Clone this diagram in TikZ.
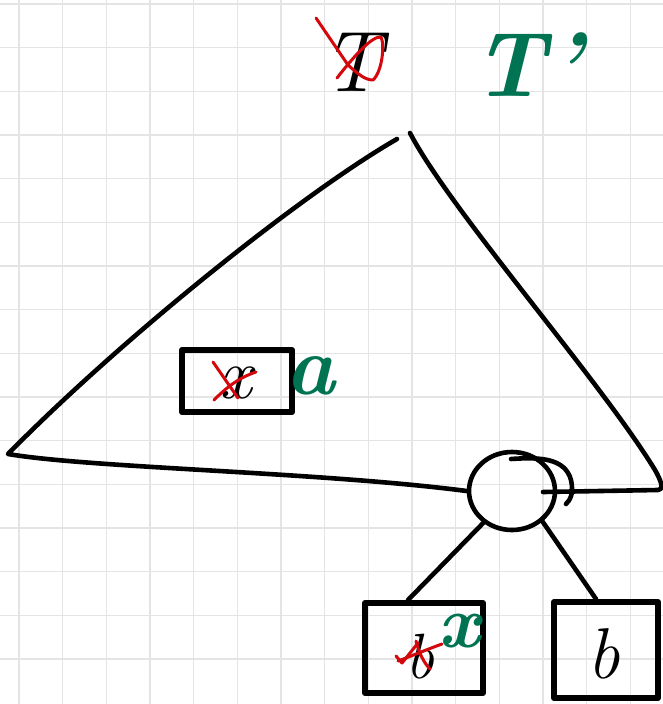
\documentclass[tikz,border=0pt]{standalone}
\usepackage{fontspec}
\usetikzlibrary{calc,shapes.geometric}
\definecolor{gridc}{RGB}{228,228,228}
\definecolor{penred}{RGB}{212,8,12}
\definecolor{pengreen}{RGB}{0,115,82}
\tikzset{
  ink/.style={line width=4.6pt, line cap=round, line join=round},
  boxnode/.style={draw, line width=6pt, line join=round, minimum width=#1, minimum height=92pt, inner sep=0pt},
  redx/.style={penred, line width=3pt, line cap=round, line join=round},
  hand/.style={font=\fontsize{72}{72}\selectfont\itshape, inner sep=0pt},
  greenhand/.style={pengreen, inner sep=0pt, font=\fontsize{#1}{#1}\selectfont\bfseries\itshape},
}
\begin{document}
\begin{tikzpicture}[x=1pt,y=-1pt]
\useasboundingbox (0,0) rectangle (663,704);
\fill[white] (0,0) rectangle (663,704);
% grid
\foreach \i in {0,...,15} {
  \draw[gridc, line width=1.5pt] ({19+43.67*\i},0) -- ({19+43.67*\i},704);
  \draw[gridc, line width=1.5pt] (0,{4+43.67*\i}) -- (663,{4+43.67*\i});
}
% circle (tree root)
\node[draw, ink, ellipse, minimum width=86pt, minimum height=78pt, inner sep=0pt] (c) at (512,491) {};
\draw[ink] (511,459) .. controls (540,457) and (565,458) .. (571,480) .. controls (574,494) and (570,500) .. (566,504);
% triangle
\coordinate (apex) at (410,132);
\coordinate (lc) at (8,454);
\coordinate (rc) at (658,490);
\draw[ink] (397,139) .. controls (300,195) and (120,340) .. (lc)
  .. controls (90,468) and (320,472) .. (c.west);
\draw[ink] (410,133) .. controls (450,210) and (600,380) .. (655,470)
  .. controls (663,484) and (663,490) .. (rc) -- (543,492);
% nodes
\node[boxnode=110pt, minimum height=62pt] (bx) at (237,381) {};
\node[boxnode=118pt, minimum height=90pt] (bl) at (424,648) {};
\node[boxnode=104pt, minimum height=96pt] (bb) at (606,650) {};
\draw[ink] (c.228) -- ($(bl.north)+(-16,0)$);
\draw[ink] (c.315) -- ($(bb.north)+(-10,0)$);
% labels in boxes
\node[hand] (xa) at (236,383) {x};
\draw[redx] (213,362) -- (238,398);
\draw[redx] (214,400) .. controls (226,388) and (238,378) .. (256,372);
\node[greenhand=84pt] (la) at (310,376) {a};
\node[hand, font=\fontsize{64}{64}\selectfont\itshape] (vb) at (420,657) {b};
\draw[redx] (396,656) -- (402,663) -- (418,643);
\draw[redx] (416,641) .. controls (419,653) and (424,663) .. (430,669);
\draw[redx] (398,661) .. controls (414,655) and (428,649) .. (442,644);
\node[greenhand=74pt] (gx) at (459,631) {x};
\node[hand] (lb) at (604,654) {b};
% T and T'
\node[hand, font=\fontsize{86}{86}\selectfont\itshape] (t1) at (352,62) {T};
\draw[redx] (316,18) -- (348,65) .. controls (358,74) and (365,80) .. (373,80)
  .. controls (382,72) and (385,45) .. (381,37) .. controls (372,36) and (355,55) .. (337,78);
\node[greenhand=92pt, anchor=base west] (t2) at (472,96) {T\kern4pt'};
\end{tikzpicture}
\end{document}
